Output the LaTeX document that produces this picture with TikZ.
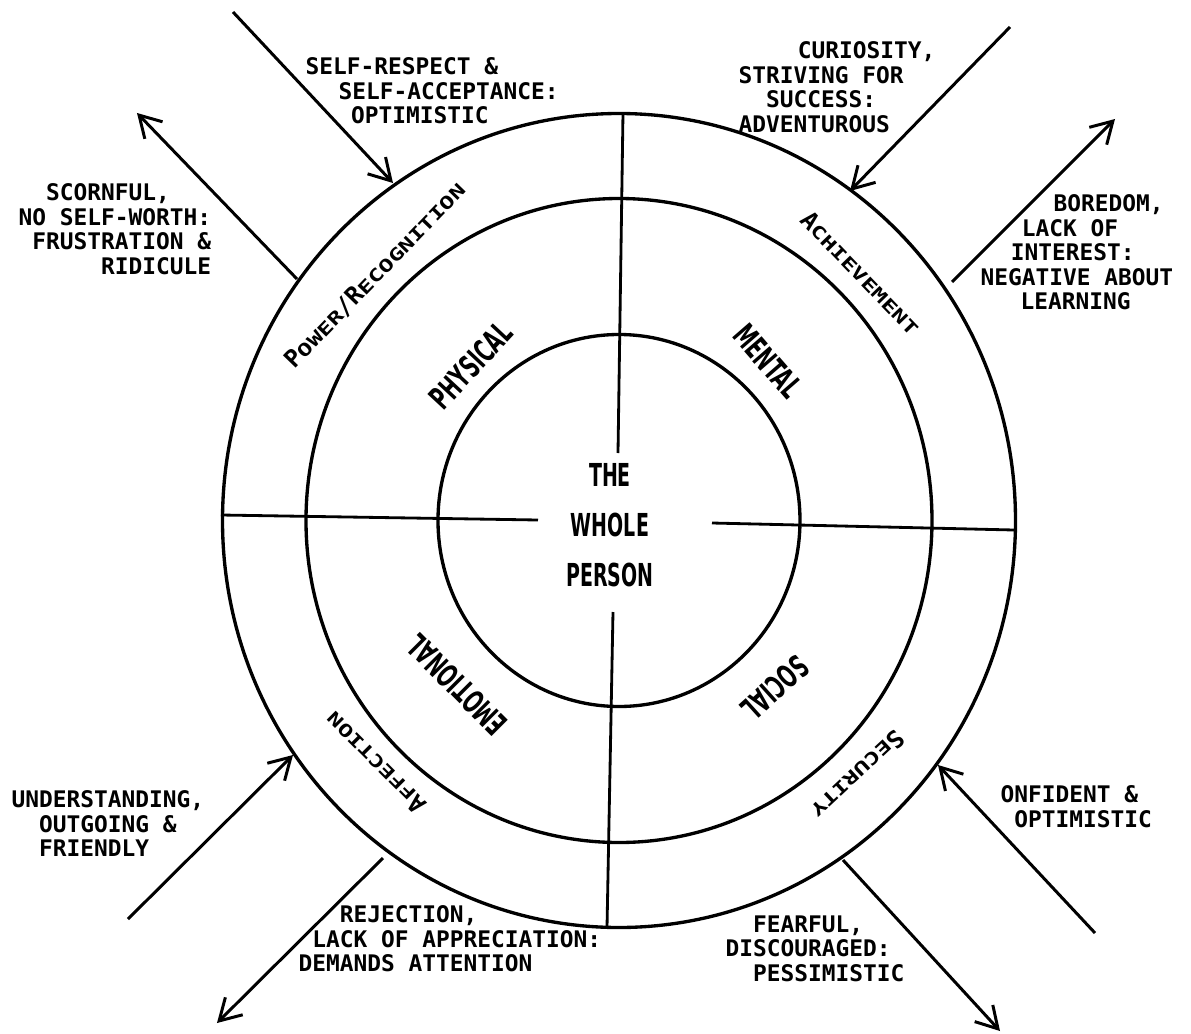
\documentclass[tikz,border=0pt]{standalone}
\usepackage{fontspec}
\usepackage{graphicx}
\usetikzlibrary{arrows.meta}
\newfontfamily\typefont{DejaVu Sans Mono}
\newfontfamily\tallfont{DejaVu Sans}
\newcommand{\pad}[1]{\hspace*{#1\fontcharwd\font`M}}
\newcommand{\lowcaps}[1]{\scalebox{1}[0.72]{#1}}
\newcommand{\narrow}[1]{\scalebox{0.6}[1]{#1}}

\begin{document}
\begin{tikzpicture}[
        line width=1.9pt,
        divider/.style={line width=1.6pt},
        flow/.style={line width=1.7pt, -{Straight Barb[length=12pt, width=14pt]}},
        note/.style={font=\typefont\bfseries\fontsize{13}{13.95}\selectfont, align=left, anchor=north west, inner sep=0pt},
        sector/.style={font=\tallfont\bfseries\fontsize{18}{28.4}\selectfont, align=center, inner sep=0pt},
        need/.style={font=\typefont\bfseries\fontsize{13.8}{15}\selectfont, inner sep=0pt},
    ]
        \useasboundingbox (-12.38,-10.25) rectangle (11.44,10.41);

        % Rings of the wheel
        \draw (0,0) ellipse [x radius=7.93, y radius=8.14];
        \draw (0,0) ellipse [x radius=6.26, y radius=6.44];
        \draw (0,0) ellipse [x radius=3.62, y radius=3.72];

        % Quadrant dividers
        \draw[divider] (0.08,8.15) -- (-0.02,1.35);
        \draw[divider] (-0.12,-1.83) -- (-0.24,-8.15);
        \draw[divider] (-7.96,0.11) -- (-1.62,0.01);
        \draw[divider] (1.86,-0.05) -- (7.90,-0.19);

        % Centre and inner sectors
        \node[sector] (whole) at (-0.18,-0.10) {\narrow{THE}\\\narrow{WHOLE}\\\narrow{PERSON}};
        \node[sector, rotate=47] (physical) at (-2.96,3.11) {\narrow{PHYSICAL}};
        \node[sector, rotate=-49] (mental) at (2.98,3.19) {\narrow{MENTAL}};
        \node[sector, rotate=135] (emotional) at (-3.24,-3.29) {\narrow{EMOTIONAL}};
        \node[sector, rotate=-138] (social) at (3.12,-3.35) {\narrow{SOCIAL}};

        % Needs in the outer ring
        \node[need, rotate=46] (power) at (-4.88,4.91) {P\lowcaps{OWER}/R\lowcaps{ECOGNITION}};
        \node[need, rotate=-46] (achieve) at (4.84,4.95) {A\lowcaps{CHIEVEMENT}};
        \node[need, rotate=135] (affect) at (-4.88,-4.85) {A\lowcaps{FFECTION}};
        \node[need, rotate=-137] (secure) at (4.78,-5.09) {S\lowcaps{ECURITY}};

        % Arrow end points
        \coordinate (respFrom) at (-7.72,10.17);
        \coordinate (respTo) at (-4.52,6.75);
        \coordinate (scornFrom) at (-6.44,4.83);
        \coordinate (scornTo) at (-9.64,8.15);
        \coordinate (curioFrom) at (7.82,9.87);
        \coordinate (curioTo) at (4.62,6.59);
        \coordinate (boreFrom) at (6.66,4.77);
        \coordinate (boreTo) at (9.92,8.03);
        \coordinate (underFrom) at (-9.82,-7.97);
        \coordinate (underTo) at (-6.52,-4.69);
        \coordinate (rejectFrom) at (-4.72,-6.75);
        \coordinate (rejectTo) at (-8.04,-10.05);
        \coordinate (confFrom) at (9.52,-8.25);
        \coordinate (confTo) at (6.38,-4.89);
        \coordinate (fearFrom) at (4.48,-6.79);
        \coordinate (fearTo) at (7.62,-10.21);

        % Met needs point in, unmet needs point out
        \draw[flow] (respFrom) -- (respTo);
        \draw[flow] (scornFrom) -- (scornTo);
        \draw[flow] (curioFrom) -- (curioTo);
        \draw[flow] (boreFrom) -- (boreTo);
        \draw[flow] (underFrom) -- (underTo);
        \draw[flow] (rejectFrom) -- (rejectTo);
        \draw[flow] (confFrom) -- (confTo);
        \draw[flow] (fearFrom) -- (fearTo);

        % Notes beside the arrows
        \node[note] (respTxt) at (-6.30,9.29) {SELF-RESPECT \&\\\pad{2.4}SELF-ACCEPTANCE:\\\pad{3.3}OPTIMISTIC};
        \node[note] (scornTxt) at (-12.04,6.77) {\pad{2}SCORNFUL,\\NO SELF-WORTH:\\\pad{1}FRUSTRATION \&\\\pad{6}RIDICULE};
        \node[note] (curioTxt) at (2.36,9.61) {\pad{4.3}CURIOSITY,\\STRIVING FOR\\\pad{2}SUCCESS:\\ADVENTUROUS};
        \node[note] (boreTxt) at (7.20,6.55) {\pad{5.3}BOREDOM,\\\pad{3}LACK OF\\\pad{2.2}INTEREST:\\NEGATIVE ABOUT\\\pad{2.9}LEARNING};
        \node[note] (underTxt) at (-12.18,-5.37) {UNDERSTANDING,\\\pad{2}OUTGOING \&\\\pad{2}FRIENDLY};
        \node[note] (rejectTxt) at (-6.44,-7.67) {\pad{3}REJECTION,\\\pad{1}LACK OF APPRECIATION:\\DEMANDS ATTENTION};
        \node[note] (fearTxt) at (2.10,-7.87) {\pad{2}FEARFUL,\\DISCOURAGED:\\\pad{2}PESSIMISTIC};
        \node[note] (confTxt) at (7.60,-5.27) {ONFIDENT \&\\\pad{1}OPTIMISTIC};
    \end{tikzpicture}
\end{document}
